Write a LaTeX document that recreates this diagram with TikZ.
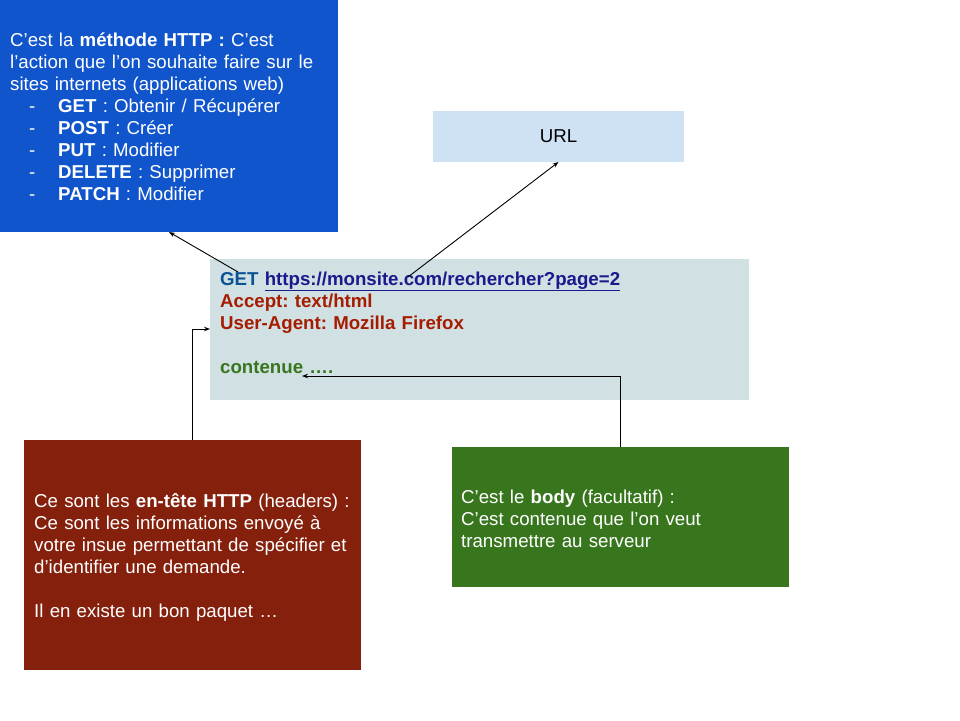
\documentclass[tikz,border=0pt]{standalone}
\usepackage{fontspec}
\setmainfont{Liberation Sans}
\usepackage{xcolor}
\usetikzlibrary{arrows.meta, positioning, calc}
\frenchspacing

\definecolor{methodebleu}{HTML}{1155CC}
\definecolor{urlbleu}{HTML}{CFE2F3}
\definecolor{requetegris}{HTML}{D0E0E3}
\definecolor{enteterouge}{HTML}{85200C}
\definecolor{corpsvert}{HTML}{38761D}
\definecolor{getbleu}{HTML}{0B5394}
\definecolor{lienbleu}{HTML}{1A1A8C}
\definecolor{texterouge}{HTML}{A61C00}
\definecolor{textevert}{HTML}{38761D}

\begin{document}
\begin{tikzpicture}[x=1pt, y=-1pt,
  bloc/.style={anchor=north west, inner sep=0pt, outer sep=0pt},
  txt/.style={anchor=base west, inner sep=0pt, align=left, text width=330pt,
    font=\fontsize{18.67}{22}\selectfont\frenchspacing},
  fleche/.style={-{Stealth[length=6pt,width=4.5pt]}, line width=0.9pt}]
\useasboundingbox (0,0) rectangle (960,720);

% Methode HTTP
\node[bloc, fill=methodebleu, minimum width=338, minimum height=232] (methode) at (0,0) {};
\node[txt, text=white] (methodetxt) at (10,46) {C’est la \textbf{méthode HTTP :} C’est\\
l’action que l’on souhaite faire sur le\\
sites internets (applications web)\\
\hspace*{19pt}\makebox[29pt][l]{-}\textbf{GET} : Obtenir / Récupérer\\
\hspace*{19pt}\makebox[29pt][l]{-}\textbf{POST} : Créer\\
\hspace*{19pt}\makebox[29pt][l]{-}\textbf{PUT} : Modifier\\
\hspace*{19pt}\makebox[29pt][l]{-}\textbf{DELETE} : Supprimer\\
\hspace*{19pt}\makebox[29pt][l]{-}\textbf{PATCH} : Modifier};

% URL
\node[bloc, fill=urlbleu, minimum width=251, minimum height=51] (url) at (433,111) {};
\node[font=\fontsize{18.67}{22}\selectfont] (urltxt) at (url.center) {URL};

% Requete
\node[bloc, fill=requetegris, minimum width=539, minimum height=141] (requete) at (210,259) {};
\node[txt, text width=530pt] (requetetxt) at (220,285) {\textcolor{getbleu}{\textbf{GET}} \textcolor{lienbleu}{\textbf{\underline{https://monsite.com/rechercher?page=2}}}\\
\textcolor{texterouge}{\textbf{Accept: text/html}}\\
\textcolor{texterouge}{\textbf{User-Agent: Mozilla Firefox}}\\[22pt]
\textcolor{textevert}{\textbf{contenue ….}}};

% En-tetes
\node[bloc, fill=enteterouge, minimum width=337, minimum height=230] (headers) at (24,440) {};
\node[txt, text=white] (headerstxt) at (34,507) {Ce sont les \textbf{en-tête HTTP} (headers) :\\
Ce sont les informations envoyé à\\
votre insue permettant de spécifier et\\
d’identifier une demande.\\[22pt]
Il en existe un bon paquet …};

% Body
\node[bloc, fill=corpsvert, minimum width=337, minimum height=140] (body) at (452,447) {};
\node[txt, text=white] (bodytxt) at (461,503) {C’est le \textbf{body} (facultatif) :\\
C’est contenue que l’on veut\\
transmettre au serveur};

% Fleches
\coordinate (getpt) at (238,272);
\coordinate (urlpt) at (408,277);
\coordinate (hdrin) at (210,329);
\coordinate (bodyin) at (302,376);
\draw[fleche] (getpt) -- (methode.south);
\draw[fleche] (urlpt) -- (url.south);
\draw[fleche] (headers.north) |- (hdrin);
\draw[fleche] (body.north) |- (bodyin);
\end{tikzpicture}
\end{document}
